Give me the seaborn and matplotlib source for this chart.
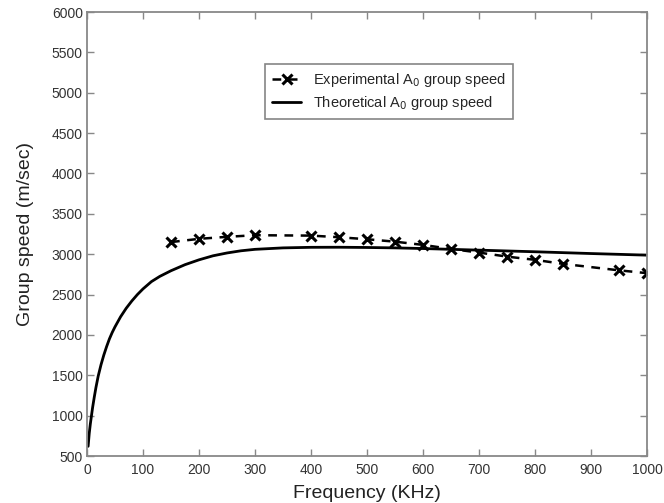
import matplotlib
matplotlib.use("Agg")
import matplotlib.pyplot as plt
import seaborn as sns
import pandas as pd

# Experimental A0 group speed
exp_freq = [150, 200, 250, 300, 400, 450, 500, 550, 600, 650, 700, 750, 800, 850, 950, 1000]
exp_speed = [3150, 3190, 3215, 3235, 3230, 3210, 3185, 3155, 3115, 3065, 3020, 2970, 2930, 2880, 2800, 2765]

# Theoretical A0 group speed
th_freq = [2, 4, 6, 8, 10, 13, 16, 20, 25, 30, 35, 40, 45, 50, 60, 70, 80, 90, 100, 115, 130,
           150, 175, 200, 225, 250, 275, 300, 350, 400, 450, 500, 550, 600, 700, 800, 900, 1000]
th_speed = [620, 780, 900, 1000, 1100, 1230, 1350, 1490, 1630, 1750, 1855, 1950, 2030, 2100,
            2225, 2330, 2420, 2500, 2570, 2660, 2725, 2795, 2870, 2930, 2980, 3015, 3042, 3060,
            3078, 3085, 3086, 3083, 3078, 3070, 3050, 3030, 3008, 2988]

x_ticks = [0, 100, 200, 300, 400, 500, 600, 700, 800, 900, 1000]
y_ticks = [500, 1000, 1500, 2000, 2500, 3000, 3500, 4000, 4500, 5000, 5500, 6000]

sns.set_theme(style="white")
plt.rcParams['font.family'] = ['Liberation Sans', 'DejaVu Sans']

fig = plt.figure(figsize=(6.64, 5.03), dpi=100)
ax = fig.add_axes([87/664, 1 - 456/503, (647-87)/664, (456-12)/503])

df_exp = pd.DataFrame({"f": exp_freq, "v": exp_speed})
df_th = pd.DataFrame({"f": th_freq, "v": th_speed})

sns.lineplot(data=df_exp, x="f", y="v", ax=ax, color="black", linestyle=(0, (3.5, 3)),
             linewidth=1.8, label=r"Experimental A$_0$ group speed")
exp_line = ax.lines[-1]
exp_line.set_marker("x")
exp_line.set_markersize(7.5)
exp_line.set_markeredgewidth(2.2)
exp_line.set_markeredgecolor("black")

sns.lineplot(data=df_th, x="f", y="v", ax=ax, color="black", linewidth=2.0,
             label=r"Theoretical A$_0$ group speed")

ax.set_xlim(0, 1000)
ax.set_ylim(500, 6000)
ax.set_xticks(x_ticks)
ax.set_yticks(y_ticks)
ax.set_xlabel("Frequency (KHz)", fontsize=14, color="#222222", labelpad=6)
ax.set_ylabel("Group speed (m/sec)", fontsize=14, color="#222222", labelpad=13)

for s in ax.spines.values():
    s.set_color("#888888")
    s.set_linewidth(1.3)
ax.tick_params(direction="in", length=5, width=1, color="#888888", labelsize=10,
               labelcolor="#333333", top=True, right=True, bottom=True, left=True, pad=3)
ax.tick_params(axis="x", pad=5)

leg = ax.legend(loc="upper left", bbox_to_anchor=((265-87)/560, (456-64)/444),
                fontsize=10.5, frameon=True, fancybox=False, handlelength=2.0,
                borderpad=0.5, labelspacing=0.3, handletextpad=0.8, borderaxespad=0)
leg.get_frame().set_edgecolor("#666666")
leg.get_frame().set_linewidth(1.2)

fig.savefig("out.png", dpi=100)
